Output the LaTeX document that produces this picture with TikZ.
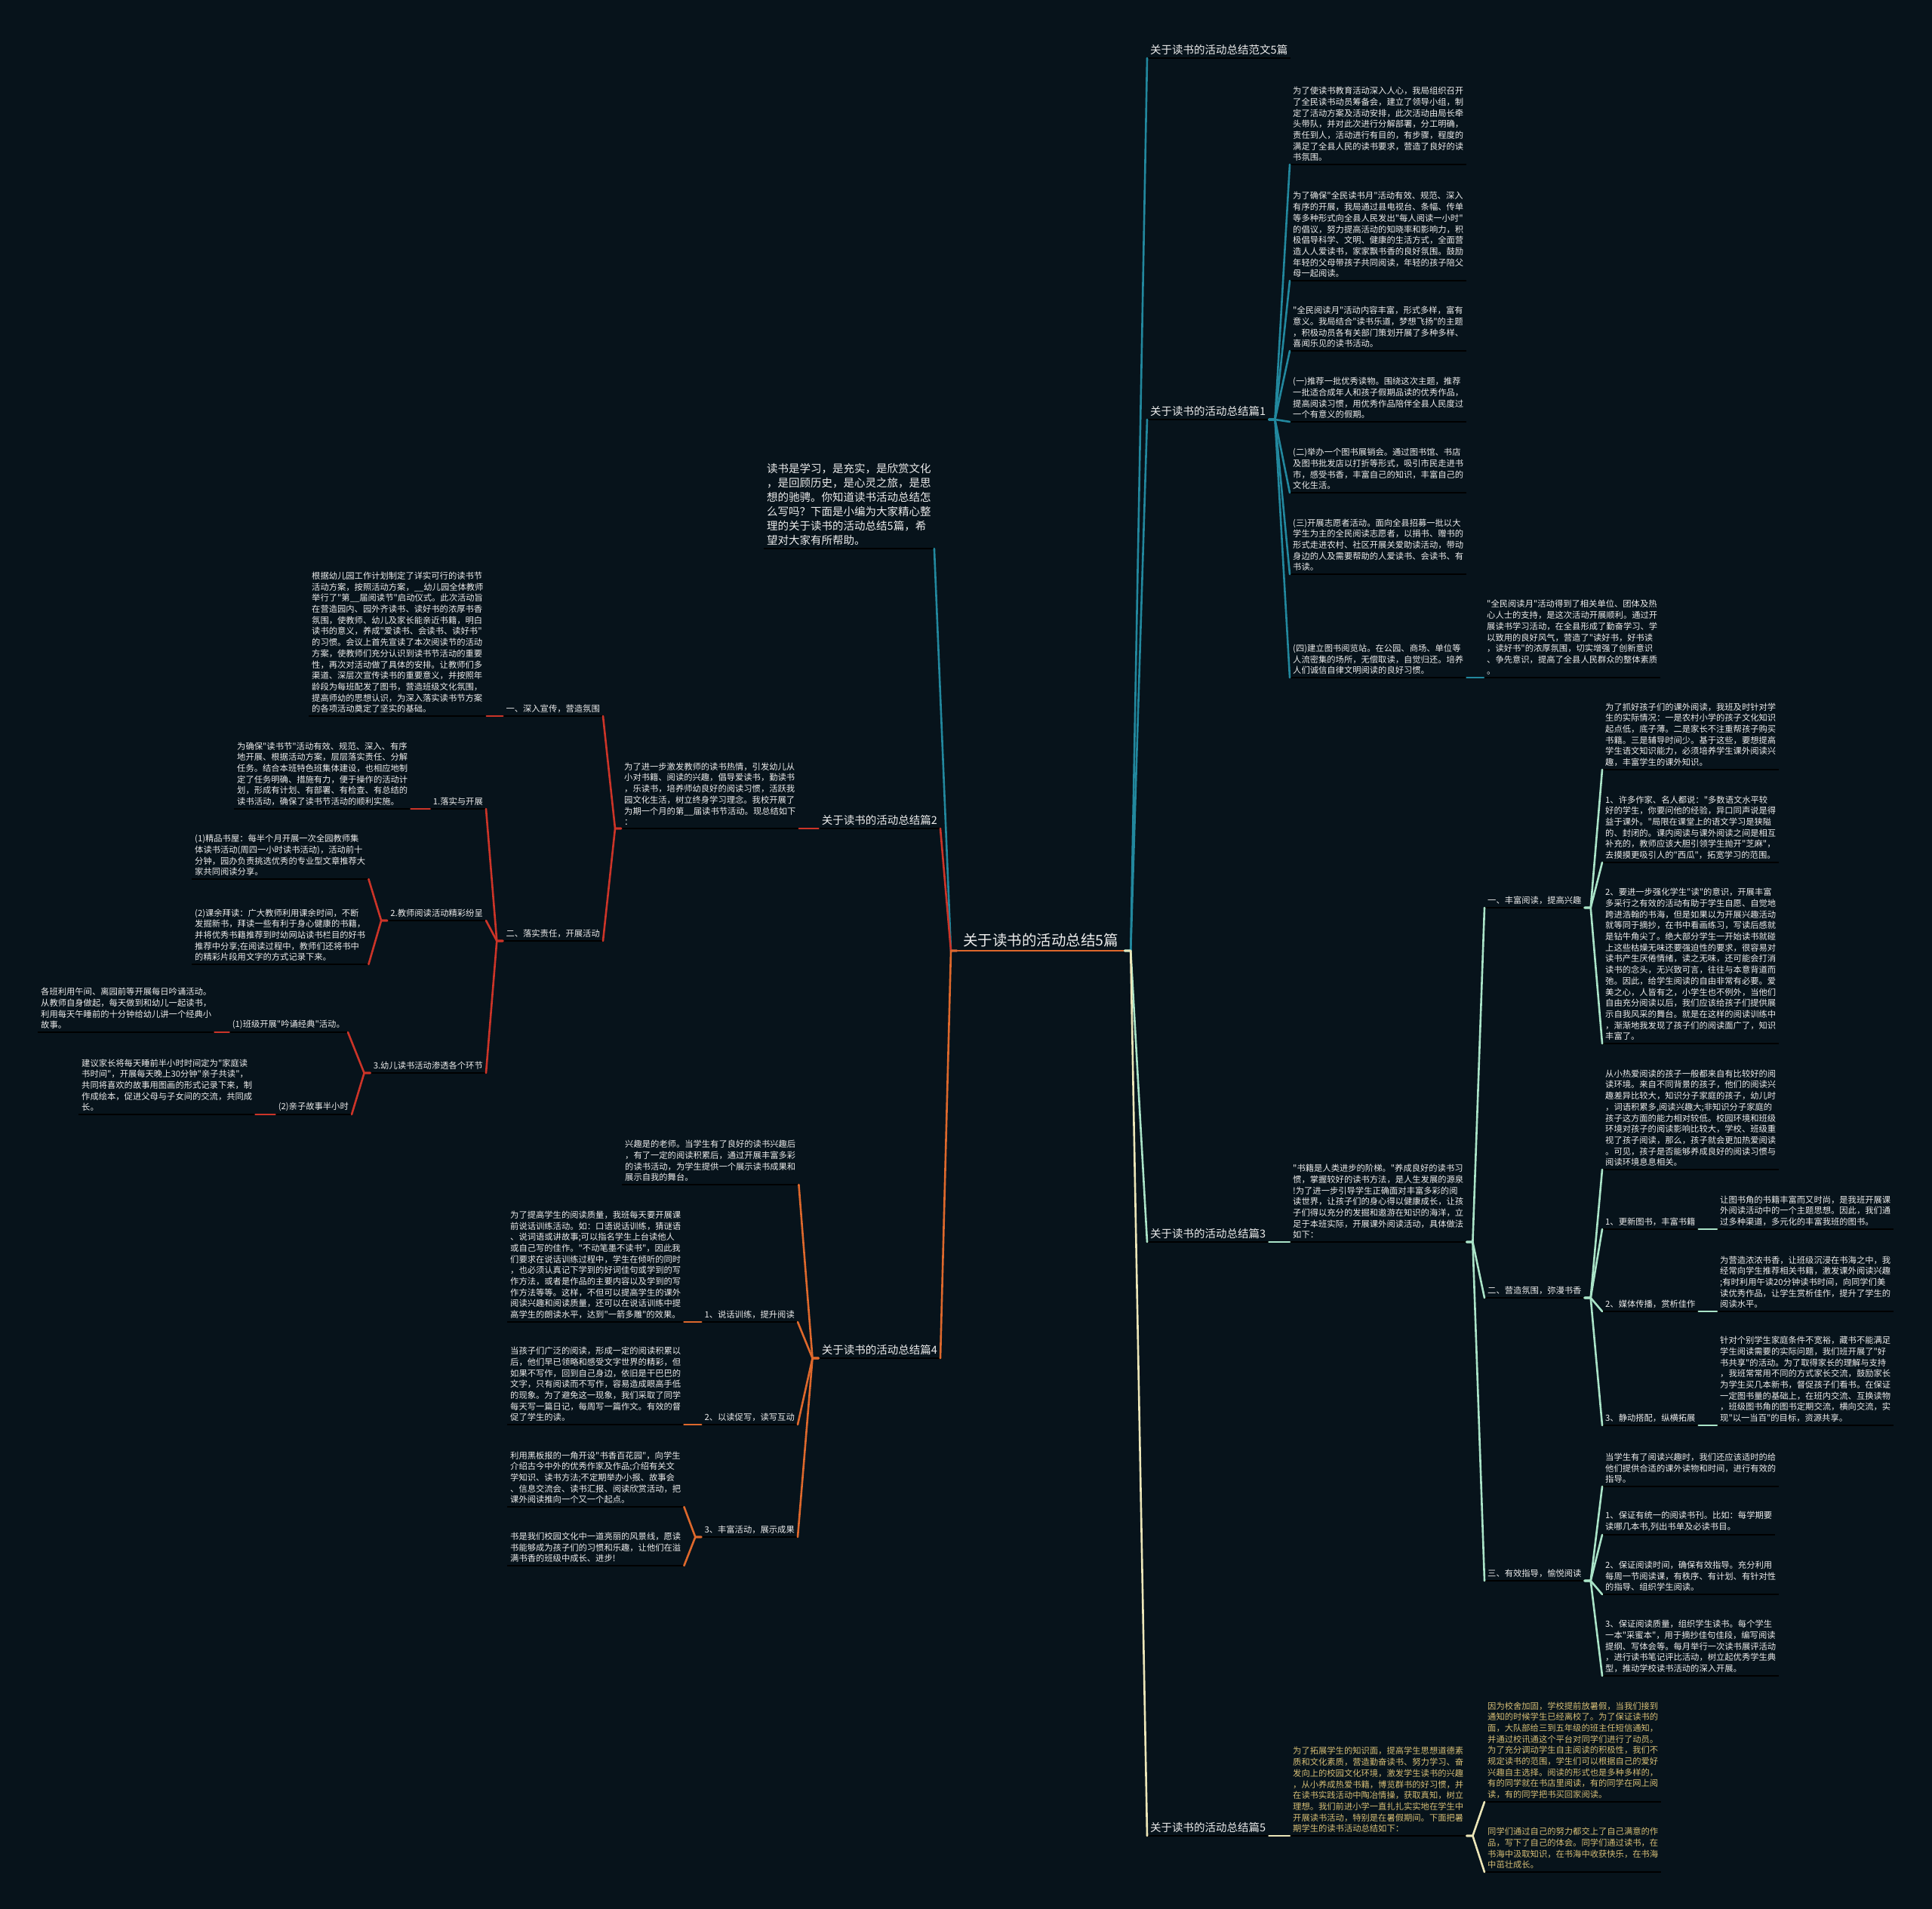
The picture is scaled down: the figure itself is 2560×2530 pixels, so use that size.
\documentclass[tikz,border=0pt]{standalone}
\usepackage{fontspec}
\setmainfont{Noto Sans CJK SC}[Ligatures=TeXOff]
\definecolor{bg}{RGB}{7,19,27}
\definecolor{fg}{RGB}{236,236,236}
\definecolor{gold}{RGB}{214,190,118}
\definecolor{cteal}{RGB}{34,136,158}
\definecolor{cmint}{RGB}{170,228,200}
\definecolor{ccream}{RGB}{236,230,184}
\definecolor{cred}{RGB}{204,52,40}
\definecolor{corange}{RGB}{222,104,44}
\definecolor{culine}{RGB}{0,0,0}
\tikzset{
 uline/.style={draw=culine, line width=2.2pt},
 base/.style={inner xsep=4pt, inner ysep=4pt, text=fg, align=left,
   append after command={(\tikzlastnode.south west) edge[uline] (\tikzlastnode.south east)}},
 txt/.style={base, font=\fontsize{11.3}{14.7}\selectfont},
 lbl/.style={base, font=\fontsize{11.3}{14.7}\selectfont},
 big/.style={base, font=\fontsize{14.5}{19}\selectfont},
 rootn/.style={inner xsep=8pt, inner ysep=5pt, text=fg, font=\fontsize{19.5}{24}\selectfont,
   append after command={(\tikzlastnode.south west) edge[draw=corange,line width=2.6pt] (\tikzlastnode.south east)}},
 conn/.style={line width=2.6pt, line join=round, line cap=round},
}
\newcommand\cR[3]{\draw[conn,#3] (#1.south east) -- ++(8,0) -- (#2.south west);}
\newcommand\cL[3]{\draw[conn,#3] (#1.south west) -- ++(-8,0) -- (#2.south east);}
\begin{document}
\begin{tikzpicture}[x=1pt,y=-1pt]
\fill[bg] (0,0) rectangle (2560,2530);
\useasboundingbox (0,0) rectangle (2560,2530);

\node[rootn, anchor=south west] (root) at (1268,1260) {关于读书的活动总结5篇};

% ===== right top-level labels
\node[big, anchor=south west] (T0) at (1520,77) {关于读书的活动总结范文5篇};
\node[big, anchor=south west] (L1) at (1520,556) {关于读书的活动总结篇1};
\node[big, anchor=south west] (L3) at (1520,1646) {关于读书的活动总结篇3};
\node[big, anchor=south west] (L5) at (1520,2433) {关于读书的活动总结篇5};

% ===== branch 1
\node[txt, anchor=south west] (a1) at (1709,218) {为了使读书教育活动深入人心，我局组织召开\\了全民读书动员筹备会，建立了领导小组，制\\定了活动方案及活动安排，此次活动由局长牵\\头带队，并对此次进行分解部署，分工明确，\\责任到人，活动进行有目的，有步骤，程度的\\满足了全县人民的读书要求，营造了良好的读\\书氛围。};
\node[txt, anchor=south west] (a2) at (1709,372) {为了确保"全民读书月"活动有效、规范、深入\\有序的开展，我局通过县电视台、条幅、传单\\等多种形式向全县人民发出"每人阅读一小时"\\的倡议，努力提高活动的知晓率和影响力，积\\极倡导科学、文明、健康的生活方式，全面营\\造人人爱读书，家家飘书香的良好氛围。鼓励\\年轻的父母带孩子共同阅读，年轻的孩子陪父\\母一起阅读。};
\node[txt, anchor=south west] (a3) at (1709,465) {"全民阅读月"活动内容丰富，形式多样，富有\\意义。我局结合"读书乐道，梦想飞扬"的主题\\，积极动员各有关部门策划开展了多种多样、\\喜闻乐见的读书活动。};
\node[txt, anchor=south west] (a4) at (1709,559) {(一)推荐一批优秀读物。围绕这次主题，推荐\\一批适合成年人和孩子假期品读的优秀作品，\\提高阅读习惯，用优秀作品陪伴全县人民度过\\一个有意义的假期。};
\node[txt, anchor=south west] (a5) at (1709,653) {(二)举办一个图书展销会。通过图书馆、书店\\及图书批发店以打折等形式，吸引市民走进书\\市，感受书香，丰富自己的知识，丰富自己的\\文化生活。};
\node[txt, anchor=south west] (a6) at (1709,761) {(三)开展志愿者活动。面向全县招募一批以大\\学生为主的全民阅读志愿者，以捐书、赠书的\\形式走进农村、社区开展关爱助读活动，带动\\身边的人及需要帮助的人爱读书、会读书、有\\书读。};
\node[txt, anchor=south west] (a7) at (1709,898) {(四)建立图书阅览站。在公园、商场、单位等\\人流密集的场所，无偿取读，自觉归还。培养\\人们诚信自律文明阅读的良好习惯。};
\node[txt, anchor=south west] (a8) at (1966,898) {"全民阅读月"活动得到了相关单位、团体及热\\心人士的支持，是这次活动开展顺利。通过开\\展读书学习活动，在全县形成了勤奋学习、学\\以致用的良好风气，营造了"读好书，好书读\\，读好书"的浓厚氛围，切实增强了创新意识\\、争先意识，提高了全县人民群众的整体素质\\。};

% ===== branch 3
\node[txt, anchor=south west] (b0) at (1709,1646) {"书籍是人类进步的阶梯。"养成良好的读书习\\惯，掌握较好的读书方法，是人生发展的源泉\\!为了进一步引导学生正确面对丰富多彩的阅\\读世界，让孩子们的身心得以健康成长，让孩\\子们得以充分的发掘和遨游在知识的海洋，立\\足于本班实际，开展课外阅读活动，具体做法\\如下：};
\node[lbl, anchor=south west] (bA) at (1967,1203) {一、丰富阅读，提高兴趣};
\node[lbl, anchor=south west] (bB) at (1967,1720) {二、营造氛围，弥漫书香};
\node[lbl, anchor=south west] (bC) at (1967,2095) {三、有效指导，愉悦阅读};

\node[txt, anchor=south west] (bA1) at (2123,1020) {为了抓好孩子们的课外阅读，我班及时针对学\\生的实际情况：一是农村小学的孩子文化知识\\起点低，底子薄。二是家长不注重帮孩子购买\\书籍。三是辅导时间少。基于这些，要想提高\\学生语文知识能力，必须培养学生课外阅读兴\\趣，丰富学生的课外知识。};
\node[txt, anchor=south west] (bA2) at (2123,1143) {1、许多作家、名人都说："多数语文水平较\\好的学生，你要问他的经验，异口同声说是得\\益于课外。"局限在课堂上的语文学习是狭隘\\的、封闭的。课内阅读与课外阅读之间是相互\\补充的，教师应该大胆引领学生抛开"芝麻"，\\去摸摸更吸引人的"西瓜"，拓宽学习的范围。};
\node[txt, anchor=south west] (bA3) at (2123,1383) {2、要进一步强化学生"读"的意识，开展丰富\\多采行之有效的活动有助于学生自愿、自觉地\\跨进浩翰的书海，但是如果以为开展兴趣活动\\就等同于摘抄，在书中看画练习，写读后感就\\是钻牛角尖了。绝大部分学生一开始读书就碰\\上这些枯燥无味还要强迫性的要求，很容易对\\读书产生厌倦情绪，读之无味，还可能会打消\\读书的念头，无兴致可言，往往与本意背道而\\弛。因此，给学生阅读的自由非常有必要。爱\\美之心，人皆有之，小学生也不例外，当他们\\自由充分阅读以后，我们应该给孩子们提供展\\示自我风采的舞台。就是在这样的阅读训练中\\，渐渐地我发现了孩子们的阅读面广了，知识\\丰富了。};

\node[txt, anchor=south west] (bB0) at (2123,1550) {从小热爱阅读的孩子一般都来自有比较好的阅\\读环境。来自不同背景的孩子，他们的阅读兴\\趣差异比较大，知识分子家庭的孩子，幼儿时\\，词语积累多,阅读兴趣大;非知识分子家庭的\\孩子这方面的能力相对较低。校园环境和班级\\环境对孩子的阅读影响比较大，学校、班级重\\视了孩子阅读，那么，孩子就会更加热爱阅读\\。可见，孩子是否能够养成良好的阅读习惯与\\阅读环境息息相关。};
\node[lbl, anchor=south west] (bB1) at (2123,1629) {1、更新图书，丰富书籍};
\node[lbl, anchor=south west] (bB2) at (2123,1738) {2、媒体传播，赏析佳作};
\node[lbl, anchor=south west] (bB3) at (2123,1889) {3、静动搭配，纵横拓展};
\node[txt, anchor=south west] (bB1t) at (2275,1629) {让图书角的书籍丰富而又时尚，是我班开展课\\外阅读活动中的一个主题思想。因此，我们通\\过多种渠道，多元化的丰富我班的图书。};
\node[txt, anchor=south west] (bB2t) at (2275,1738) {为营造浓浓书香，让班级沉浸在书海之中，我\\经常向学生推荐相关书籍，激发课外阅读兴趣\\;有时利用午读20分钟读书时间，向同学们美\\读优秀作品，让学生赏析佳作，提升了学生的\\阅读水平。};
\node[txt, anchor=south west] (bB3t) at (2275,1889) {针对个别学生家庭条件不宽裕，藏书不能满足\\学生阅读需要的实际问题，我们班开展了"好\\书共享"的活动。为了取得家长的理解与支持\\，我班常常用不同的方式家长交流，鼓励家长\\为学生买几本新书，督促孩子们看书。在保证\\一定图书量的基础上，在班内交流、互换读物\\，班级图书角的图书定期交流，横向交流，实\\现"以一当百"的目标，资源共享。};

\node[txt, anchor=south west] (bC0) at (2123,1970) {当学生有了阅读兴趣时，我们还应该适时的给\\他们提供合适的课外读物和时间，进行有效的\\指导。};
\node[txt, anchor=south west] (bC1) at (2123,2034) {1、保证有统一的阅读书刊。比如：每学期要\\读哪几本书,列出书单及必读书目。};
\node[txt, anchor=south west] (bC2) at (2123,2113) {2、保证阅读时间，确保有效指导。充分利用\\每周一节阅读课，有秩序、有计划、有针对性\\的指导、组织学生阅读。};
\node[txt, anchor=south west] (bC3) at (2123,2221) {3、保证阅读质量，组织学生读书。每个学生\\一本"采蜜本"，用于摘抄佳句佳段，编写阅读\\提纲、写体会等。每月举行一次读书展评活动\\，进行读书笔记评比活动，树立起优秀学生典\\型，推动学校读书活动的深入开展。};

% ===== branch 5
\node[txt, text=gold, anchor=south west] (c0) at (1709,2433) {为了拓展学生的知识面，提高学生思想道德素\\质和文化素质，营造勤奋读书、努力学习、奋\\发向上的校园文化环境，激发学生读书的兴趣\\，从小养成热爱书籍，博览群书的好习惯，并\\在读书实践活动中陶冶情操，获取真知，树立\\理想。我们前进小学一直扎扎实实地在学生中\\开展读书活动，特别是在暑假期间。下面把暑\\期学生的读书活动总结如下：};
\node[txt, text=gold, anchor=south west] (c1) at (1967,2388) {因为校舍加固，学校提前放暑假，当我们接到\\通知的时候学生已经离校了。为了保证读书的\\面，大队部给三到五年级的班主任短信通知，\\并通过校讯通这个平台对同学们进行了动员。\\为了充分调动学生自主阅读的积极性，我们不\\规定读书的范围，学生们可以根据自己的爱好\\兴趣自主选择。阅读的形式也是多种多样的，\\有的同学就在书店里阅读，有的同学在网上阅\\读，有的同学把书买回家阅读。};
\node[txt, text=gold, anchor=south west] (c2) at (1967,2481) {同学们通过自己的努力都交上了自己满意的作\\品，写下了自己的体会。同学们通过读书，在\\书海中汲取知识，在书海中收获快乐，在书海\\中茁壮成长。};

% ===== left: intro
\node[big, anchor=south west] (TI) at (1012,727) {读书是学习，是充实，是欣赏文化\\，是回顾历史，是心灵之旅，是思\\想的驰骋。你知道读书活动总结怎\\么写吗？下面是小编为大家精心整\\理的关于读书的活动总结5篇，希\\望对大家有所帮助。};

% ===== branch 2
\node[big, anchor=south east] (L2) at (1246,1098) {关于读书的活动总结篇2};
\node[txt, anchor=south west] (d0) at (823,1098) {为了进一步激发教师的读书热情，引发幼儿从\\小对书籍、阅读的兴趣，倡导爱读书，勤读书\\，乐读书，培养师幼良好的阅读习惯，活跃我\\园文化生活，树立终身学习理念。我校开展了\\为期一个月的第\_\_届读书节活动。现总结如下\\：};
\node[lbl, anchor=south east] (dA) at (799,949) {一、深入宣传，营造氛围};
\node[txt, anchor=south west] (dAt) at (409,949) {根据幼儿园工作计划制定了详实可行的读书节\\活动方案，按照活动方案，\_\_幼儿园全体教师\\举行了"第\_\_届阅读节"启动仪式。此次活动旨\\在营造园内、园外齐读书、读好书的浓厚书香\\氛围，使教师、幼儿及家长能亲近书籍，明白\\读书的意义，养成"爱读书、会读书、读好书"\\的习惯。会议上首先宣读了本次阅读节的活动\\方案，使教师们充分认识到读书节活动的重要\\性，再次对活动做了具体的安排。让教师们多\\渠道、深层次宣传读书的重要意义，并按照年\\龄段为每班配发了图书，营造班级文化氛围，\\提高师幼的思想认识，为深入落实读书节方案\\的各项活动奠定了坚实的基础。};
\node[lbl, anchor=south east] (dB) at (799,1247) {二、落实责任，开展活动};
\node[lbl, anchor=south east] (dB1) at (644,1072) {1.落实与开展};
\node[txt, anchor=south west] (dB1t) at (310,1072) {为确保"读书节"活动有效、规范、深入、有序\\地开展、根据活动方案，层层落实责任、分解\\任务。结合本班特色班集体建设，也相应地制\\定了任务明确、措施有力，便于操作的活动计\\划，形成有计划、有部署、有检查、有总结的\\读书活动，确保了读书节活动的顺利实施。};
\node[lbl, anchor=south east] (dB2) at (644,1220) {2.教师阅读活动精彩纷呈};
\node[txt, anchor=south west] (dB2a) at (254,1165) {(1)精品书屋：每半个月开展一次全园教师集\\体读书活动(周四一小时读书活动)，活动前十\\分钟，园办负责挑选优秀的专业型文章推荐大\\家共同阅读分享。};
\node[txt, anchor=south west] (dB2b) at (254,1278) {(2)课余拜读：广大教师利用课余时间，不断\\发掘新书，拜读一些有利于身心健康的书籍，\\并将优秀书籍推荐到时幼网站读书栏目的好书\\推荐中分享;在阅读过程中，教师们还将书中\\的精彩片段用文字的方式记录下来。};
\node[lbl, anchor=south east] (dB3) at (644,1422) {3.幼儿读书活动渗透各个环节};
\node[lbl, anchor=south east] (dB3a) at (461,1368) {(1)班级开展"吟诵经典"活动。};
\node[txt, anchor=south west] (dB3at) at (50,1368) {各班利用午间、离园前等开展每日吟诵活动。\\从教师自身做起，每天做到和幼儿一起读书，\\利用每天午睡前的十分钟给幼儿讲一个经典小\\故事。};
\node[lbl, anchor=south east] (dB3b) at (466,1477) {(2)亲子故事半小时};
\node[txt, anchor=south west] (dB3bt) at (104,1477) {建议家长将每天睡前半小时时间定为"家庭读\\书时间"，开展每天晚上30分钟"亲子共读"，\\共同将喜欢的故事用图画的形式记录下来，制\\作成绘本，促进父母与子女间的交流，共同成\\长。};

% ===== branch 4
\node[big, anchor=south east] (L4) at (1246,1800) {关于读书的活动总结篇4};
\node[txt, anchor=south west] (e0) at (824,1570) {兴趣是的老师。当学生有了良好的读书兴趣后\\，有了一定的阅读积累后，通过开展丰富多彩\\的读书活动，为学生提供一个展示读书成果和\\展示自我的舞台。};
\node[lbl, anchor=south east] (eA) at (1057,1752) {1、说话训练，提升阅读};
\node[txt, anchor=south west] (eAt) at (672,1752) {为了提高学生的阅读质量，我班每天要开展课\\前说话训练活动。如：口语说话训练，猜谜语\\、说词语或讲故事;可以指名学生上台读他人\\或自己写的佳作。"不动笔墨不读书"，因此我\\们要求在说话训练过程中，学生在倾听的同时\\，也必须认真记下学到的好词佳句或学到的写\\作方法，或者是作品的主要内容以及学到的写\\作方法等等。这样，不但可以提高学生的课外\\阅读兴趣和阅读质量，还可以在说话训练中提\\高学生的朗读水平，达到"一箭多雕"的效果。};
\node[lbl, anchor=south east] (eB) at (1057,1888) {2、以读促写，读写互动};
\node[txt, anchor=south west] (eBt) at (672,1888) {当孩子们广泛的阅读，形成一定的阅读积累以\\后，他们早已领略和感受文字世界的精彩，但\\如果不写作，回到自己身边，依旧是干巴巴的\\文字，只有阅读而不写作，容易造成眼高手低\\的现象。为了避免这一现象，我们采取了同学\\每天写一篇日记，每周写一篇作文。有效的督\\促了学生的读。};
\node[lbl, anchor=south east] (eC) at (1057,2037) {3、丰富活动，展示成果};
\node[txt, anchor=south west] (eCa) at (672,1997) {利用黑板报的一角开设"书香百花园"，向学生\\介绍古今中外的优秀作家及作品;介绍有关文\\学知识、读书方法;不定期举办小报、故事会\\、信息交流会、读书汇报、阅读欣赏活动，把\\课外阅读推向一个又一个起点。};
\node[txt, anchor=south west] (eCb) at (672,2075) {书是我们校园文化中一道亮丽的风景线，愿读\\书能够成为孩子们的习惯和乐趣，让他们在溢\\满书香的班级中成长、进步!};

% ===== connectors
\cR{root}{T0}{cteal}
\cR{root}{L1}{cteal}
\cR{root}{L3}{cmint}
\cR{root}{L5}{ccream}
\cL{root}{TI}{cteal}
\cL{root}{L2}{cred}
\cL{root}{L4}{corange}

\foreach \n in {a1,a2,a3,a4,a5,a6,a7} {\cR{L1}{\n}{cteal}}
\cR{a7}{a8}{cteal}

\cR{L3}{b0}{cmint}
\foreach \n in {bA,bB,bC} {\cR{b0}{\n}{cmint}}
\foreach \n in {bA1,bA2,bA3} {\cR{bA}{\n}{cmint}}
\foreach \n in {bB0,bB1,bB2,bB3} {\cR{bB}{\n}{cmint}}
\cR{bB1}{bB1t}{cmint}
\cR{bB2}{bB2t}{cmint}
\cR{bB3}{bB3t}{cmint}
\foreach \n in {bC0,bC1,bC2,bC3} {\cR{bC}{\n}{cmint}}

\cR{L5}{c0}{ccream}
\cR{c0}{c1}{ccream}
\cR{c0}{c2}{ccream}

\cL{L2}{d0}{cred}
\cL{d0}{dA}{cred}
\cL{d0}{dB}{cred}
\cL{dA}{dAt}{cred}
\foreach \n in {dB1,dB2,dB3} {\cL{dB}{\n}{cred}}
\cL{dB1}{dB1t}{cred}
\cL{dB2}{dB2a}{cred}
\cL{dB2}{dB2b}{cred}
\cL{dB3}{dB3a}{cred}
\cL{dB3}{dB3b}{cred}
\cL{dB3a}{dB3at}{cred}
\cL{dB3b}{dB3bt}{cred}

\foreach \n in {e0,eA,eB,eC} {\cL{L4}{\n}{corange}}
\cL{eA}{eAt}{corange}
\cL{eB}{eBt}{corange}
\cL{eC}{eCa}{corange}
\cL{eC}{eCb}{corange}
\end{tikzpicture}
\end{document}
